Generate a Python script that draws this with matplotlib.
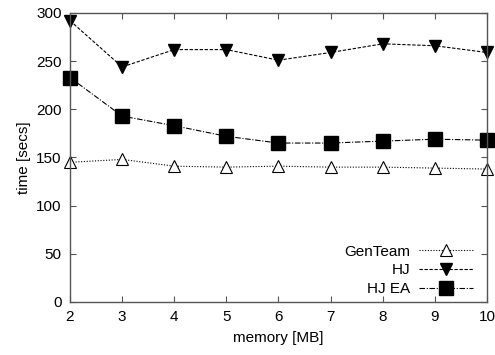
import matplotlib
matplotlib.use("Agg")
import matplotlib.pyplot as plt

# data
memory = [2, 3, 4, 5, 6, 7, 8, 9, 10]
genteam = [145, 148, 141, 140, 141, 140, 140, 139, 138]
hj = [292, 244, 262, 262, 251, 259, 268, 266, 259]
hj_ea = [233, 193, 183, 172, 165, 165, 167, 169, 168]

plt.rcParams['font.family'] = ['Liberation Sans', 'DejaVu Sans']
plt.rcParams['font.size'] = 11

fig = plt.figure(figsize=(4.95, 3.55), dpi=100)
ax = fig.add_axes([0.1414, 0.1493, 0.8424, 0.8141])

ax.plot(memory, genteam, color='black', lw=0.8, ls=(0, (1, 1.5)),
        marker='^', ms=9, mfc='white', mec='black', mew=0.8,
        clip_on=False, label='GenTeam')
ax.plot(memory, hj, color='black', lw=0.8, ls=(0, (3, 1.5)),
        marker='v', ms=9, mfc='black', mec='black',
        clip_on=False, label='HJ')
ax.plot(memory, hj_ea, color='black', lw=0.8, ls=(0, (5, 1.5, 1, 1.5)),
        marker='s', ms=10, mfc='black', mec='black',
        clip_on=False, label='HJ EA')

ax.set_xlim(2, 10)
ax.set_ylim(0, 300)
ax.set_xticks(memory)
ax.set_yticks(range(0, 301, 50))
ax.set_xlabel('memory [MB]', labelpad=5)
ax.set_ylabel('time [secs]', labelpad=4)

for s in ax.spines.values():
    s.set_color('#555555')
    s.set_linewidth(1.0)
ax.tick_params(direction='in', top=True, right=True, length=4,
               color='#555555', labelcolor='black', pad=6)

ax.legend(loc='lower right', frameon=False, markerfirst=False,
          handlelength=3.5, handletextpad=0.6, labelspacing=0.3,
          borderaxespad=0.0, bbox_to_anchor=(0.98, 0.0))

fig.savefig('out.png', dpi=100)
